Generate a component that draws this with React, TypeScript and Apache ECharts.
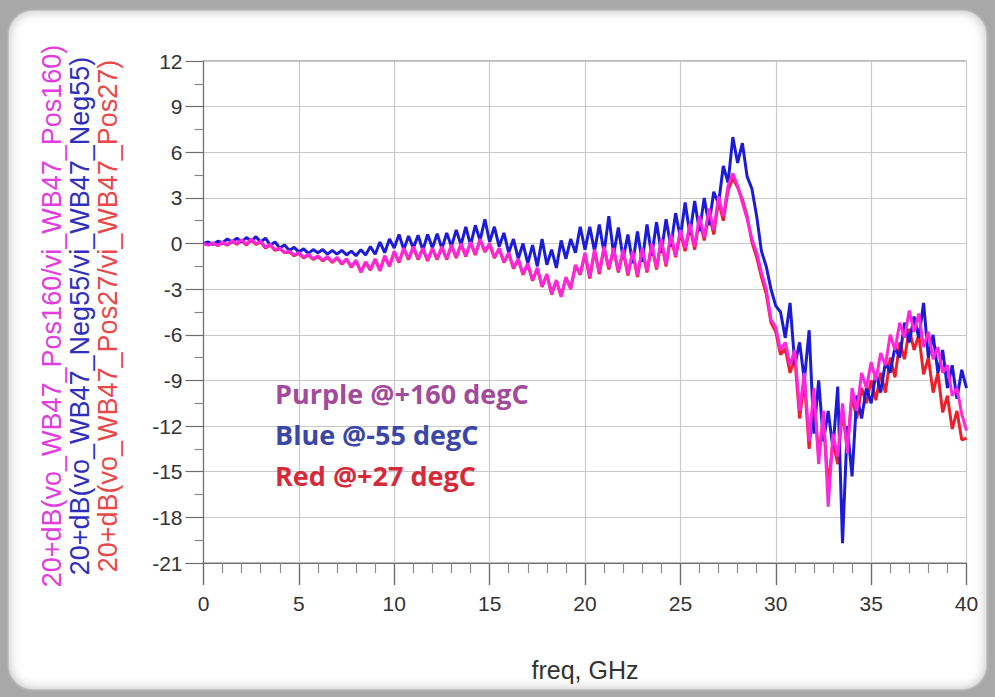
import React, { useEffect, useRef } from "react";
import * as echarts from "echarts";

// Sampling step of the traces, GHz
const FREQ_STEP = 0.25;

// 20*dB(vo/vi) for the -55 degC corner (blue)
const NEG55 = [
  0, 0.1, -0.05, 0.15,
  0.05, 0.3, 0.1, 0.35,
  0.1, 0.4, 0.15, 0.45,
  0.1, 0.35, -0.1, 0.1,
  -0.3, -0.1, -0.45, -0.25,
  -0.55, -0.35, -0.65, -0.4,
  -0.6, -0.4, -0.7, -0.45,
  -0.7, -0.45, -0.75, -0.5,
  -0.8, -0.4, -0.75, -0.2,
  -0.7, 0.1, -0.6, 0.3,
  -0.3, 0.6, -0.4, 0.5,
  -0.3, 0.55, -0.45, 0.6,
  -0.3, 0.65, -0.35, 0.7,
  -0.2, 0.9, -0.1, 1.1,
  -0.1, 1.2, 0.2, 1.6,
  0.1, 1.1, -0.2, 0.7,
  -0.6, 0.3, -1.0, 0.0,
  -1.3, -0.1, -1.5, 0.3,
  -1.4, -0.4, -1.6, 0.2,
  -1.0, 0.3, -0.6, 1.1,
  -0.4, 1.1, -0.5, 1.25,
  -0.6, 1.8, -0.7, 1.05,
  -1.0, 0.6, -1.3, 0.8,
  -1.2, 1.25, -0.8, 1.4,
  -0.6, 1.6, -0.2, 2.0,
  0.4, 2.7, 0.6, 2.8,
  0.8, 3.0, 1.2, 3.4,
  2.6, 5.1, 4.0, 7.0,
  5.3, 6.6, 4.4, 3.6,
  1.8, -0.5, -1.5, -3.0,
  -4.1, -4.5, -6.2, -3.9,
  -8.0, -6.5, -9.0, -5.7,
  -12.5, -9.0, -13.0, -11.0,
  -13.5, -9.4, -19.7, -12.0,
  -15.3, -10.0, -11.5, -9.5,
  -10.5, -8.5, -9.8, -7.8,
  -8.5, -6.8, -7.5, -5.2,
  -6.5, -4.8, -6.2, -3.9,
  -7.5, -6.0, -8.5, -7.0,
  -9.5, -8.0, -10.2, -8.3,
  -9.5,
];

// 20*dB(vo/vi) for the +160 degC corner (magenta)
const POS160 = [
  0, -0.1, 0.05, -0.15,
  0.1, -0.1, 0.2, 0.0,
  0.25, -0.05, 0.3, 0.0,
  0.15, -0.25, -0.05, -0.4,
  -0.3, -0.6, -0.5, -0.75,
  -0.6, -0.9, -0.7, -1.0,
  -0.8, -1.1, -0.85, -1.2,
  -0.9, -1.3, -1.0, -1.5,
  -1.1, -1.9, -1.2, -1.7,
  -1.0, -1.8, -0.8, -1.5,
  -0.5, -1.2, -0.3, -1.0,
  -0.2, -1.0, -0.3, -1.1,
  -0.3, -1.0, -0.2, -1.0,
  -0.1, -0.9, 0.0, -0.8,
  0.1, -0.7, 0.3, -0.5,
  0.0, -0.9, -0.3, -1.2,
  -0.6, -1.6, -1.0, -2.0,
  -1.3, -2.4, -1.6, -2.8,
  -2.0, -3.3, -2.4, -3.5,
  -2.2, -3.0, -1.4, -2.0,
  -0.6, -2.2, -0.4, -1.9,
  -0.2, -1.6, -0.3, -1.8,
  -0.4, -2.0, -0.5, -2.1,
  -0.3, -1.8, 0.0, -1.6,
  0.3, -1.4, 0.6, -0.8,
  0.9, -0.3, 1.3, -0.2,
  1.8, 0.4, 2.3, 0.9,
  3.1, 1.8, 3.8, 4.6,
  3.8, 2.7, 1.6, 0.3,
  -0.6, -1.9, -3.0, -5.0,
  -5.5, -7.0, -6.5, -8.0,
  -7.0, -11.0, -8.5, -13.0,
  -9.5, -14.5, -11.0, -17.3,
  -12.5, -14.0, -10.5, -13.8,
  -9.5, -11.0, -8.5, -9.5,
  -7.8, -9.0, -7.2, -8.0,
  -6.0, -7.0, -5.2, -6.2,
  -4.4, -5.8, -4.6, -6.8,
  -5.8, -7.6, -6.8, -8.5,
  -8.0, -10.0, -9.5, -11.2,
  -12.3,
];

// 20*dB(vo/vi) for the +27 degC corner (red)
const POS27 = [
  0, -0.05, 0.0, -0.1,
  0.05, -0.1, 0.15, -0.05,
  0.2, -0.1, 0.25, -0.05,
  0.1, -0.3, -0.1, -0.45,
  -0.35, -0.6, -0.55, -0.8,
  -0.65, -0.95, -0.75, -1.05,
  -0.85, -1.15, -0.9, -1.25,
  -0.95, -1.35, -1.05, -1.55,
  -1.15, -1.85, -1.25, -1.75,
  -1.05, -1.75, -0.85, -1.5,
  -0.55, -1.25, -0.35, -1.05,
  -0.25, -1.05, -0.35, -1.15,
  -0.35, -1.05, -0.25, -1.05,
  -0.15, -0.95, -0.05, -0.85,
  0.05, -0.75, 0.25, -0.55,
  -0.05, -0.95, -0.35, -1.25,
  -0.65, -1.65, -1.05, -2.05,
  -1.35, -2.45, -1.65, -2.85,
  -2.05, -3.35, -2.45, -3.45,
  -2.25, -2.95, -1.45, -2.05,
  -0.7, -2.3, -0.5, -2.0,
  -0.3, -1.7, -0.4, -1.9,
  -0.5, -2.1, -0.6, -2.2,
  -0.4, -1.9, -0.1, -1.7,
  0.2, -1.5, 0.5, -0.9,
  0.7, -0.5, 1.1, -0.4,
  1.6, 0.2, 2.0, 0.6,
  2.8, 1.5, 3.5, 4.3,
  3.7, 2.9, 1.8, 0.1,
  -0.9, -2.2, -3.3, -5.2,
  -5.8, -7.3, -6.9, -8.5,
  -7.5, -11.5, -9.0, -13.5,
  -10.0, -14.0, -11.5, -16.0,
  -13.0, -14.5, -11.0, -13.5,
  -10.0, -11.5, -9.5, -10.5,
  -9.0, -10.3, -8.5, -9.8,
  -7.5, -8.8, -6.5, -7.6,
  -5.6, -7.0, -6.0, -8.6,
  -7.5, -9.8, -8.5, -11.1,
  -10.0, -12.2, -11.0, -12.9,
  -12.8,
];

const Y_NAMES = [
  { text: "20+dB(vo_WB47_Pos160/vi_WB47_Pos160)", color: "#e23be0" },
  { text: "20+dB(vo_WB47_Neg55/vi_WB47_Neg55)", color: "#2f2fbf" },
  { text: "20+dB(vo_WB47_Pos27/vi_WB47_Pos27)", color: "#ea4848" },
];

const NOTES = [
  { text: "Purple @+160 degC", color: "#a24a9c" },
  { text: "Blue @-55 degC", color: "#3a46a8" },
  { text: "Red @+27 degC", color: "#d62a3a" },
];

const X_NAME = "freq, GHz";

const toPairs = (vals: number[]) => vals.map((v, i) => [i * FREQ_STEP, v]);

export default function App() {
  const ref = useRef<HTMLDivElement>(null);

  useEffect(() => {
    if (!ref.current) return;
    const chart = echarts.init(ref.current, null, { renderer: "svg" });
    const font = "'Liberation Sans', Arial, sans-serif";
    const axisGray = "#6e6e6e";
    const gridGray = "#c9c9c9";

    const mkSeries = (name: string, vals: number[], color: string) => ({
      name,
      type: "line",
      data: toPairs(vals),
      showSymbol: false,
      symbol: "none",
      lineStyle: { color, width: 3 },
      itemStyle: { color },
      z: 3,
    });

    chart.setOption({
      animation: false,
      backgroundColor: "transparent",
      grid: {
        left: 203.5,
        right: 28.5,
        top: 61,
        bottom: 134,
        show: true,
        borderColor: "#777",
        borderWidth: 1,
        backgroundColor: "transparent",
      },
      xAxis: {
        type: "value",
        min: 0,
        max: 40,
        interval: 5,
        name: X_NAME,
        nameLocation: "middle",
        nameGap: 94,
        nameTextStyle: { fontFamily: font, fontSize: 25, color: "#333" },
        axisLine: { show: true, onZero: false, lineStyle: { color: axisGray, width: 1.2 } },
        axisTick: { show: true, length: 22, lineStyle: { color: axisGray, width: 1.4 } },
        minorTick: { show: true, splitNumber: 5, length: 10, lineStyle: { color: "#888", width: 1.2 } },
        splitLine: { show: true, lineStyle: { color: gridGray, width: 1.2 } },
        axisLabel: { fontFamily: font, fontSize: 21, color: "#333", margin: 30 },
      },
      yAxis: {
        type: "value",
        min: -21,
        max: 12,
        interval: 3,
        axisLine: { show: true, onZero: false, lineStyle: { color: axisGray, width: 1.2 } },
        axisTick: { show: true, length: 18, lineStyle: { color: axisGray, width: 1.2 } },
        minorTick: { show: true, splitNumber: 2, length: 9, lineStyle: { color: "#888", width: 1.2 } },
        splitLine: { show: true, lineStyle: { color: gridGray, width: 1.2 } },
        axisLabel: { fontFamily: font, fontSize: 21, color: "#333", margin: 21 },
      },
      graphic: [
        ...Y_NAMES.map((n, i) => ({
          type: "text",
          x: 52 + i * 28,
          y: 316,
          rotation: Math.PI / 2,
          style: {
            text: n.text,
            fill: n.color,
            font: `27px ${font}`,
            textAlign: "center",
            textVerticalAlign: "middle",
          },
          z: 10,
        })),
        ...NOTES.map((n, i) => ({
          type: "text",
          x: 275,
          y: 393 + i * 41,
          style: {
            text: n.text,
            fill: n.color,
            font: `bold 27px 'Open Sans', 'Noto Sans', sans-serif`,
            textAlign: "left",
            textVerticalAlign: "middle",
          },
          z: 10,
        })),
      ],
      series: [
        mkSeries("Pos27", POS27, "#ee1f2a"),
        mkSeries("Neg55", NEG55, "#1c1cd6"),
        mkSeries("Pos160", POS160, "#ff26dc"),
      ],
    });

    return () => chart.dispose();
  }, []);

  return (
    <div
      style={{
        position: "absolute",
        left: 0,
        top: 0,
        width: 995,
        height: 697,
        background: "#a8a8a8",
        overflow: "hidden",
      }}
    >
      <div
        style={{
          position: "absolute",
          left: 9,
          top: 11,
          width: 977,
          height: 678,
          borderRadius: 24,
          background: "#ffffff",
          boxShadow: "inset 0 0 12px rgba(0,0,0,0.25), 0 0 3px rgba(255,255,255,0.9)",
        }}
      />
      <div
        ref={ref}
        style={{ position: "absolute", left: 0, top: 0, width: 995, height: 697 }}
      />
    </div>
  );
}
